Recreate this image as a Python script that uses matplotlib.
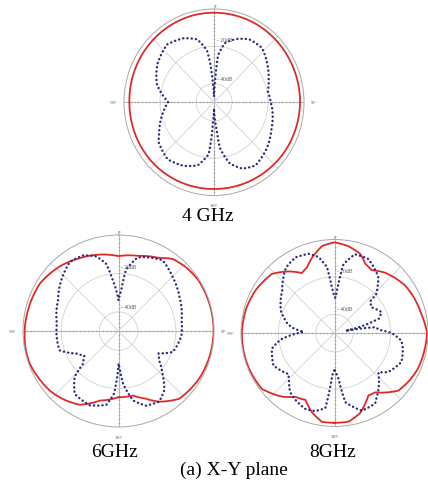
import matplotlib.pyplot as plt
import numpy as np

plt.rcParams['font.family'] = ['Liberation Serif', 'DejaVu Serif']

# angles in degrees (0 = top, clockwise), gain in dB (-50 .. 0 dB scale)
# 4 GHz
ang_4_red = [-180, -165, -150, -135, -120, -105, -90, -75, -60, -45, -30, -15, 0,
             15, 30, 45, 60, 75, 90, 105, 120, 135, 150, 165, 180]
gain_4_red = [-3.5, -3.4, -3.2, -3.0, -3.0, -3.0, -3.0, -2.8, -2.6, -2.4, -2.2, -2.0, -2.0,
              -2.0, -2.0, -2.1, -2.2, -2.2, -2.2, -2.4, -2.6, -2.9, -3.2, -3.4, -3.5]
ang_4_blue = [-180, -177, -176, -174, -165, -154, -140, -125, -118, -100, -90, -85, -73,
              -57, -40, -26, -15.5, -8, -6, -4, 0, 3, 4.2, 5.2, 10.6, 19.7, 30, 42.4,
              55.5, 67, 79, 90, 96, 114, 131, 145.7, 156, 165, 172.6, 174.5, 180]
gain_4_blue = [-46, -40, -32, -22, -15, -12, -10, -12.5, -15.5, -21.5, -24.5, -22.5, -16.8,
               -12.5, -9.5, -11.8, -15, -22, -28, -37, -47, -39, -30, -24.5, -17.8, -14, -11, -10.5,
               -14, -17, -19.5, -18.5, -17.5, -15, -11.5, -9, -11, -16, -25.5, -36, -46]

# 6 GHz
ang_6_red = [-180, -165, -152, -140, -131, -120, -110, -100, -86, -75, -59, -42, -28, -14, 0,
             15, 29, 37, 47, 58, 75, 90, 105, 120, 138, 144, 150, 158, 167, 180]
gain_6_red = [-15.5, -12.5, -6.5, -4, -2.5, -1.5, -0.5, -0.5, -1, -1.5, -2, -4.5, -7, -9, -11,
              -9.5, -6.5, -3, -1.5, -0.5, -0.3, -0.2, -0.5, -1, -2.5, -5, -7.5, -12, -15.5, -15.5]
ang_6_blue = [-180, -176, -170.6, -158.7, -145, -136, -132.5, -125.5, -118, -108, -95.5, -83,
              -63, -48.5, -35.4, -25, -16.6, -10.4, -6.4, 0, 3.8, 7, 14.5, 18, 32, 45, 61,
              80.5, 94.5, 111, 119, 125.5, 134, 142, 150, 159.6, 168, 175, 178.4, 180]
gain_6_blue = [-32.5, -17.5, -11, -8.5, -10, -17, -25, -28, -25, -17.5, -17.5, -17.5,
               -14.5, -10, -6, -6.5, -9.5, -14.5, -23.5, -34, -29, -18, -10.5, -9.5, -6.5, -10, -13.5,
               -16.5, -17, -19.5, -26, -24, -18, -11, -7.5, -8.5, -13, -22.5, -31, -32.5]

# 8 GHz
ang_8_red = [-180, -172, -164, -156.6, -148.6, -140.7, -127.6, -112.7, -100, -90, -75, -61.7,
             -46.6, -36.6, -28.6, -22.8, -16.6, -8, 0, 9, 18, 24, 30.5, 39.7, 56, 66, 77.5,
             90, 100, 113, 122, 132, 145.5, 151.5, 162.4, 171, 180]
gain_8_red = [-2, -2, -6, -11, -10, -6, -1, -0.5, -0.4, -0.5, -1, -2,
              -4, -9, -13.5, -12, -8, -3, -1.5, -3, -5.5, -9.5, -11, -8, -4.5, -3.5, -2.5,
              -0.5, -1, -1.5, -2.5, -4, -11.5, -12, -5, -2, -2]
ang_8_blue = [-180, -177, -175, -173, -166, -159, -150, -143, -136, -131.7, -125, -118, -104,
              -97, -88, -83, -79, -67.6, -51, -36.7, -27.4, -18, -11.9, -6.6, -3.4, 0, 2, 4.6,
              7.4, 14.6, 24.6, 38, 47, 48.5, 55, 66, 72, 76, 79, 80.5, 82, 86, 90, 96.5, 103,
              113.5, 126, 131.8, 141.8, 147.3, 150, 160.6, 171, 175, 178, 180]
gain_8_blue = [-30, -27.5, -19, -9.5, -7, -6.5, -8.5, -10.5, -15, -17, -15, -13, -15.5,
               -21, -33.5, -27.5, -24.5, -19, -14, -6.5, -4.5, -5.5, -8.5, -14.5, -25.5, -31, -31, -23.5,
               -13, -6.5, -6.5, -12, -19.5, -24.5, -26, -22.5, -25, -35, -44, -35, -28, -26, -19.5, -14, -12.5,
               -11, -14.5, -18.5, -12, -8.5, -6.5, -6, -12.5, -25.5, -29, -30]

RED = '#e02a2a'
BLUE = '#2a2c7c'

fig = plt.figure(figsize=(4.28, 4.85), dpi=100)


def polar_panel(rect, red_a, red_g, blue_a, blue_g, labels):
    ax = fig.add_axes(rect, projection='polar')
    ax.set_aspect('auto')
    ax.set_theta_zero_location('N')
    ax.set_theta_direction(-1)
    ax.set_ylim(-50, 0)
    ax.set_yticks([-40, -20])
    ax.set_yticklabels([])
    ax.set_xticks(np.deg2rad(np.arange(0, 360, 45)))
    ax.set_xticklabels(labels)
    ax.set_xticks(np.deg2rad(np.arange(0, 360, 5)), minor=True)
    ax.tick_params(axis='x', which='major', labelsize=3.2, pad=0.2, colors='#555555', length=0)
    ax.tick_params(axis='x', which='minor', length=2.5, width=0.4, direction='in', color='#aaaaaa')
    ax.grid(color='#d2d2d2', lw=0.6)
    for i, gl in enumerate(ax.xaxis.get_gridlines()):
        if i % 2 == 0:
            gl.set_color('#a8a8a8')
    ax.spines['polar'].set_color('#a8a8a8')
    ax.spines['polar'].set_linewidth(0.7)

    # small tick marks along the main axes
    rr = np.arange(-48, 0, 2)
    for th, mk in [(0, '_'), (np.pi, '_'), (np.pi / 2, '|'), (-np.pi / 2, '|')]:
        ax.plot(np.full(rr.size, th), rr, ls='none', marker=mk, ms=2, mew=0.4, color='#a0a0a0')

    # top angle label placed by hand so it stays inside the figure
    ax.annotate('0°', xy=(0, 0), xytext=(1, 0.6), textcoords='offset points',
                ha='center', va='bottom', fontsize=3.2, color='#555555')
    ax.annotate('- 20dB', xy=(0, -16.5), xytext=(2, 0), textcoords='offset points',
                ha='left', va='center', fontsize=4, color='#555555')
    ax.annotate('- 40dB', xy=(0, -37), xytext=(2, 0), textcoords='offset points',
                ha='left', va='center', fontsize=4, color='#555555')

    red, = ax.plot(np.deg2rad(red_a), red_g, color=RED, lw=1.3)
    blue, = ax.plot(np.deg2rad(blue_a), blue_g, color=BLUE, lw=1.7, ls=(0, (0.1, 1.7)),
                    dash_capstyle='round')
    # draw segments as arcs in polar space instead of straight chords
    for ln in (red, blue):
        ln.get_path()._interpolation_steps = 12
    return ax


full = ['', '', '90°', '', '180°', '', '-90°', '']
polar_panel([124 / 428, 1 - 196.5 / 485, 180 / 428, 186.5 / 485],
            ang_4_red, gain_4_red, ang_4_blue, gain_4_blue, full)
polar_panel([23 / 428, 1 - 428 / 485, 191 / 428, 192 / 485],
            ang_6_red, gain_6_red, ang_6_blue, gain_6_blue, full)
polar_panel([241 / 428, 1 - 427.5 / 485, 187 / 428, 187 / 485],
            ang_8_red, gain_8_red, ang_8_blue, gain_8_blue,
            ['', '', '', '', '180°', '', '-90°', ''])

fig.text(207.5 / 428, 1 - 220.7 / 485, '4 GHz', ha='center', va='baseline', fontsize=14)
fig.text(115 / 428, 1 - 456.7 / 485, '6GHz', ha='center', va='baseline', fontsize=14)
fig.text(332.5 / 428, 1 - 456.7 / 485, '8GHz', ha='center', va='baseline', fontsize=14)
fig.text(234 / 428, 1 - 475 / 485, '(a) X-Y plane', ha='center', va='baseline', fontsize=14)

fig.savefig('out.png', dpi=100, facecolor='white')
